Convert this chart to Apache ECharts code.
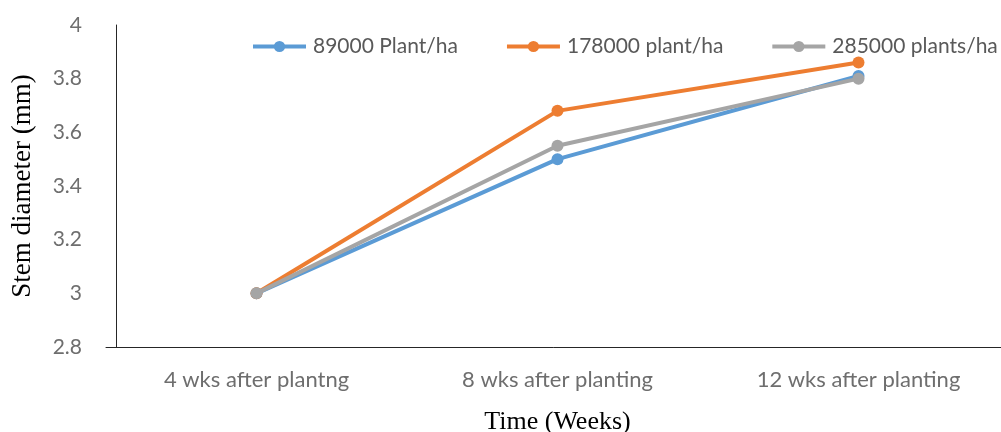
<!DOCTYPE html>
<html>
<head>
<meta charset="utf-8">
<script src="https://cdn.jsdelivr.net/npm/echarts@6/dist/echarts.min.js"></script>
<style>
  html, body { margin: 0; padding: 0; background: #fff; }
  #chart { width: 1001px; height: 432px; }
</style>
</head>
<body>
<div id="chart"></div>
<script>
// Stem diameter (mm) by sampling time for three planting densities
const categories = ['4 wks after plantng', '8 wks after planting', '12 wks after planting'];
const seriesNames = ['89000 Plant/ha', '178000 plant/ha', '285000 plants/ha'];
const density89000 = [3.00, 3.50, 3.81];
const density178000 = [3.00, 3.68, 3.86];
const density285000 = [3.00, 3.55, 3.80];
const seriesValues = [density89000, density178000, density285000];
const seriesColors = ['#5B9BD5', '#ED7D31', '#A5A5A5'];

const tickFont = 'Lato, "Liberation Sans", sans-serif';
const titleFont = '"Liberation Serif", "DejaVu Serif", serif';

const chart = echarts.init(document.getElementById('chart'), null, { renderer: 'canvas' });

chart.setOption({
  animation: false,
  backgroundColor: '#ffffff',
  grid: { left: 106, top: 25, width: 903, height: 322, containLabel: false, outerBoundsMode: 'none' },
  legend: {
    left: 251,
    top: 36,
    width: 750,
    padding: 0,
    itemWidth: 53,
    itemHeight: 14,
    itemGap: 47,
    lineStyle: { width: 4 },
    textStyle: { color: '#595959', fontFamily: tickFont, fontSize: 21, padding: [0, 0, 0, 2] },
    data: seriesNames
  },
  xAxis: {
    type: 'category',
    data: categories,
    boundaryGap: true,
    axisLine: { show: true, lineStyle: { color: '#262626', width: 1 } },
    axisTick: { show: false },
    axisLabel: { color: '#6e6e6e', fontFamily: tickFont, fontSize: 22, margin: 22 },
    name: 'Time (Weeks)',
    nameLocation: 'middle',
    nameGap: 62,
    nameTextStyle: { color: '#000', fontFamily: titleFont, fontSize: 26 },
    splitLine: { show: false }
  },
  yAxis: {
    type: 'value',
    min: 2.8,
    max: 4,
    interval: 0.2,
    offset: -10,
    axisLine: { show: true, lineStyle: { color: '#262626', width: 1 } },
    axisTick: { show: false },
    axisLabel: {
      color: '#6e6e6e', fontFamily: tickFont, fontSize: 21, margin: 34,
      formatter: v => String(Math.round(v * 10) / 10)
    },
    splitLine: { show: false },
    name: 'Stem diameter (mm)',
    nameLocation: 'middle',
    nameGap: 80,
    nameRotate: 90,
    nameTextStyle: { color: '#000', fontFamily: titleFont, fontSize: 27 }
  },
  series: seriesNames.map((name, i) => ({
    name: name,
    type: 'line',
    data: seriesValues[i],
    symbol: 'circle',
    symbolSize: 12,
    lineStyle: { width: 4, color: seriesColors[i] },
    itemStyle: { color: seriesColors[i] },
    z: 2 + i
  }))
});
</script>
</body>
</html>
